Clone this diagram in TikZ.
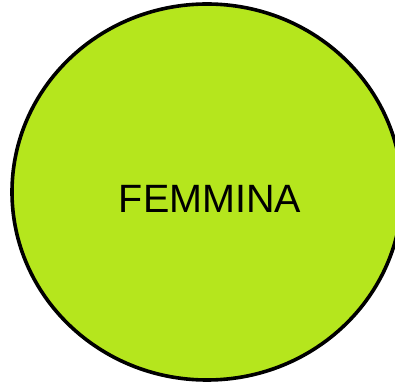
\documentclass[tikz,border=0pt]{standalone}
\usepackage{fontspec}
\setmainfont{Liberation Sans}
\definecolor{lime}{RGB}{181,230,29}

\begin{document}
\begin{tikzpicture}[x=1pt,y=1pt,line cap=round,line join=round]
  \useasboundingbox (0,0) rectangle (395,382);
  \coordinate (C) at (207,190);
  \draw[line width=3.6pt,fill=lime] (C) ellipse (195 and 188);
  \node[font=\fontsize{39.5}{40}\selectfont] (femmina) at (210,183) {FEMMINA};
\end{tikzpicture}
\end{document}
